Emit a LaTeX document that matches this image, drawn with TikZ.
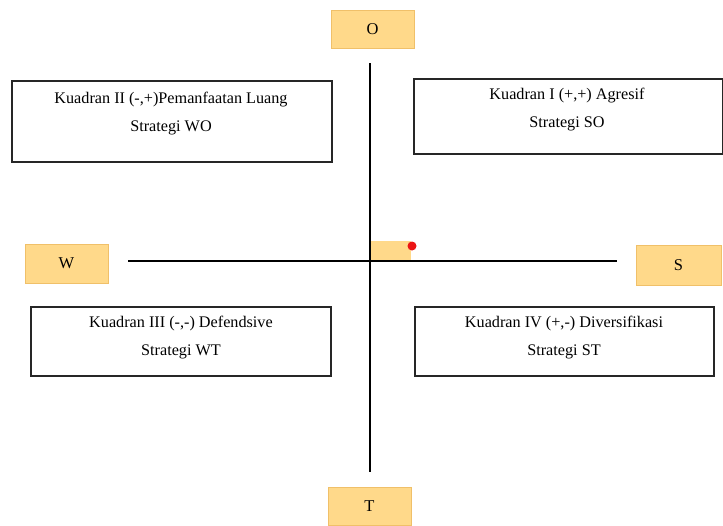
\documentclass[tikz,border=0pt]{standalone}
\usepackage{fontspec}
\setmainfont{Liberation Serif}
\definecolor{boxfill}{RGB}{255,217,138}
\definecolor{boxdraw}{RGB}{240,192,105}
\definecolor{dotred}{RGB}{235,20,20}
\begin{document}
\begin{tikzpicture}[x=1pt,y=-1pt,
  letter/.style={draw=boxdraw,fill=boxfill,line width=0.8pt,font=\fontsize{16.5}{19}\selectfont},
  quad/.style={draw=black!85,line width=1.2pt},
  qtext/.style={font=\fontsize{16.2}{19}\selectfont,inner sep=0pt},
  axis/.style={line width=2pt,black}]
\useasboundingbox (0,0) rectangle (723,525);
% letter boxes
\draw[letter] (331,10) rectangle (414,48) node[midway,text=black] (O) {O};
\draw[letter] (25,244) rectangle (108,283) node[midway,text=black] (W) {W};
\draw[letter] (636,245) rectangle (721,285) node[midway,text=black] (S) {S};
\draw[letter] (328,487) rectangle (411,525) node[midway,text=black] (T) {T};
% small origin box
\fill[boxfill] (370,241) rectangle (411,261);
\node[circle,fill=dotred,inner sep=0pt,minimum size=9pt] (dot) at (412,246) {};
% axes
\coordinate (vt) at (370,63);
\coordinate (vb) at (370,472);
\coordinate (hl) at (128,261);
\coordinate (hr) at (617,261);
\draw[axis] (vt) -- (vb);
\draw[axis] (hl) -- (hr);
% quadrant boxes
\draw[quad] (12,81) rectangle (332,162);
\node[qtext] (q2a) at (171,100) {Kuadran II (-,+)Pemanfaatan Luang};
\node[qtext] (q2b) at (171,128) {Strategi WO};
\draw[quad] (414,79) rectangle (723,154);
\node[qtext] (q1a) at (567,96) {Kuadran I (+,+) Agresif};
\node[qtext] (q1b) at (567,124) {Strategi SO};
\draw[quad] (31,307) rectangle (331,376);
\node[qtext] (q3a) at (181,324) {Kuadran III (-,-) Defendsive};
\node[qtext] (q3b) at (181,352) {Strategi WT};
\draw[quad] (415,307) rectangle (714,376);
\node[qtext] (q4a) at (564,324) {Kuadran IV (+,-) Diversifikasi};
\node[qtext] (q4b) at (564,352) {Strategi ST};
\end{tikzpicture}
\end{document}
